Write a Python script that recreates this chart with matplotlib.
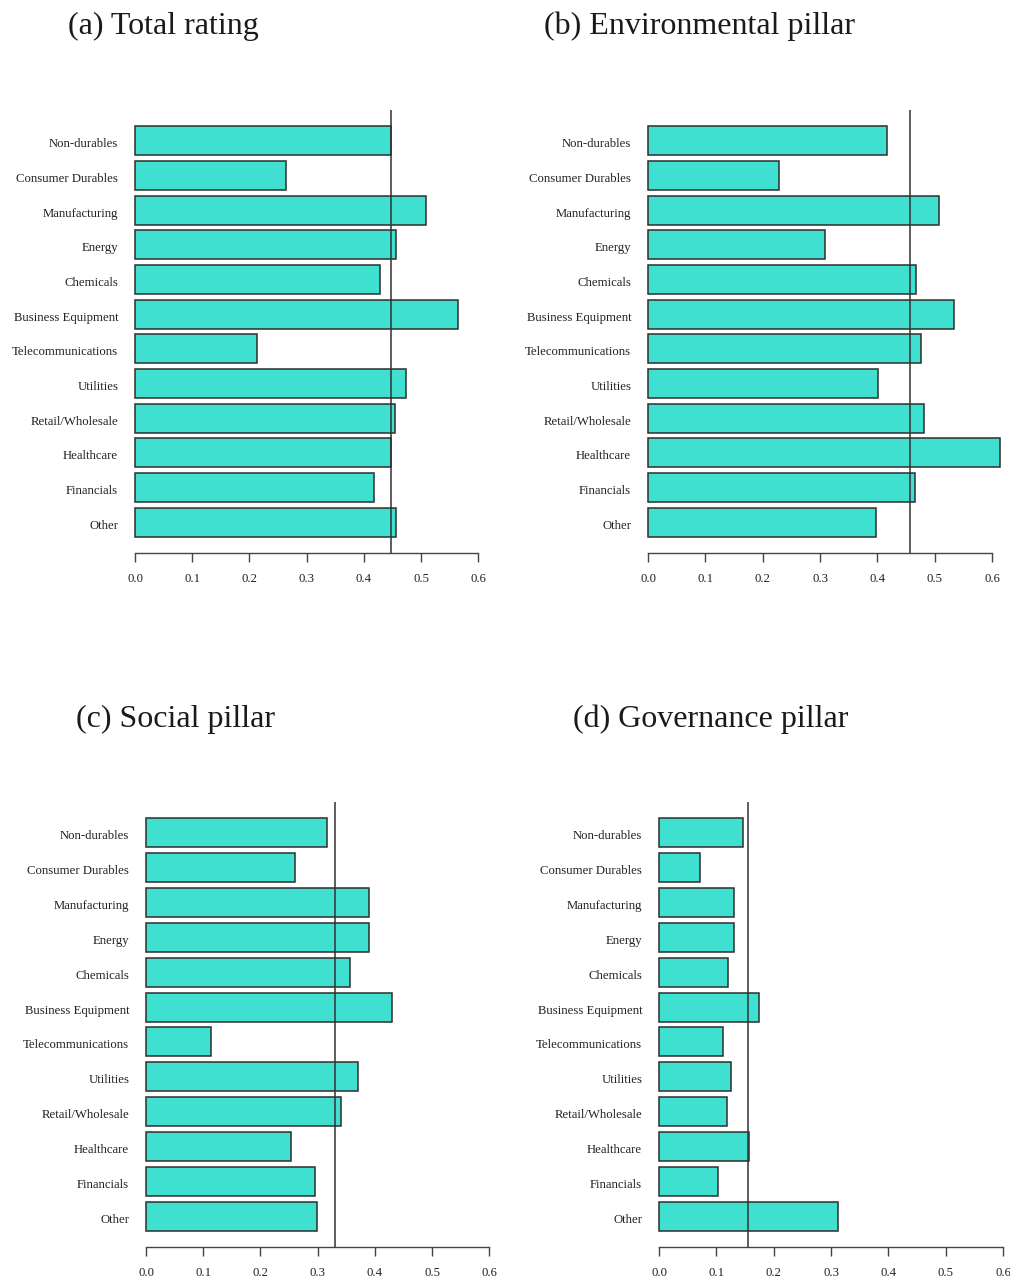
import matplotlib
matplotlib.use("Agg")
import matplotlib.pyplot as plt
import matplotlib.transforms as mtransforms
import numpy as np

plt.rcParams['font.family'] = ['Liberation Serif', 'DejaVu Serif']

categories = ["Non-durables", "Consumer Durables", "Manufacturing", "Energy",
              "Chemicals", "Business Equipment", "Telecommunications", "Utilities",
              "Retail/Wholesale", "Healthcare", "Financials", "Other"]

total_rating = [0.447, 0.264, 0.509, 0.457, 0.429, 0.565, 0.214, 0.474, 0.454, 0.447, 0.418, 0.456]
environmental = [0.416, 0.229, 0.508, 0.309, 0.468, 0.533, 0.475, 0.401, 0.481, 0.613, 0.466, 0.397]
social = [0.317, 0.261, 0.390, 0.390, 0.356, 0.430, 0.113, 0.371, 0.341, 0.253, 0.296, 0.299]
governance = [0.146, 0.072, 0.130, 0.131, 0.120, 0.174, 0.111, 0.125, 0.119, 0.157, 0.102, 0.312]

means = [0.447, 0.456, 0.331, 0.155]
titles = ["(a) Total rating", "(b) Environmental pillar", "(c) Social pillar", "(d) Governance pillar"]
xticks = [0.0, 0.1, 0.2, 0.3, 0.4, 0.5, 0.6]
xtick_labels = ["0.0", "0.1", "0.2", "0.3", "0.4", "0.5", "0.6"]

W, H = 1010, 1279
fig = plt.figure(figsize=(W / 100, H / 100), dpi=100)

# axes boxes in pixels: (left, top, right, bottom)
boxes = [(121, 110, 500, 553), (634, 110, 1014, 553),
         (132, 802, 511, 1247), (645, 802, 1025, 1247)]
title_pos = [(163, 26), (700, 26), (176, 719), (711, 719)]
series = [total_rating, environmental, social, governance]

n = len(categories)
pos = 0.7 + 1.2 * np.arange(n)[::-1]
shift_down = mtransforms.ScaledTranslation(0, -2 / 100, fig.dpi_scale_trans)

for k in range(4):
    l, t, r, b = boxes[k]
    ax = fig.add_axes([l / W, 1 - b / H, (r - l) / W, (b - t) / H])
    ax.barh(pos, series[k], height=1.0, color="#40E0D0", edgecolor="#2e2e2e",
            linewidth=1.1, zorder=2)
    ax.axvline(means[k], color="#333333", linewidth=1.3, alpha=0.85, zorder=3)
    ax.set_xlim(-0.0245, 0.638)
    ax.set_ylim(-0.368, 14.968)
    for s in ["top", "right", "left"]:
        ax.spines[s].set_visible(False)
    ax.spines["bottom"].set_bounds(0, 0.6)
    ax.spines["bottom"].set_color("#444444")
    ax.spines["bottom"].set_linewidth(1.0)
    ax.set_xticks(xticks)
    ax.set_xticklabels(xtick_labels, fontsize=9.2, color="#222222")
    ax.tick_params(axis="x", length=6.5, width=1.0, color="#444444", pad=8)
    ax.set_yticks(pos)
    ax.set_yticklabels(categories, fontsize=9.2, color="#222222")
    ax.tick_params(axis="y", length=0, pad=2)
    for lab in ax.get_yticklabels():
        lab.set_transform(lab.get_transform() + shift_down)
    ax.patch.set_alpha(0)
    tx, ty = title_pos[k]
    fig.text(tx / W, 1 - ty / H, titles[k], fontsize=23, color="#1a1a1a",
             ha="center", va="center")

fig.savefig("out.png", dpi=100, facecolor="white")
